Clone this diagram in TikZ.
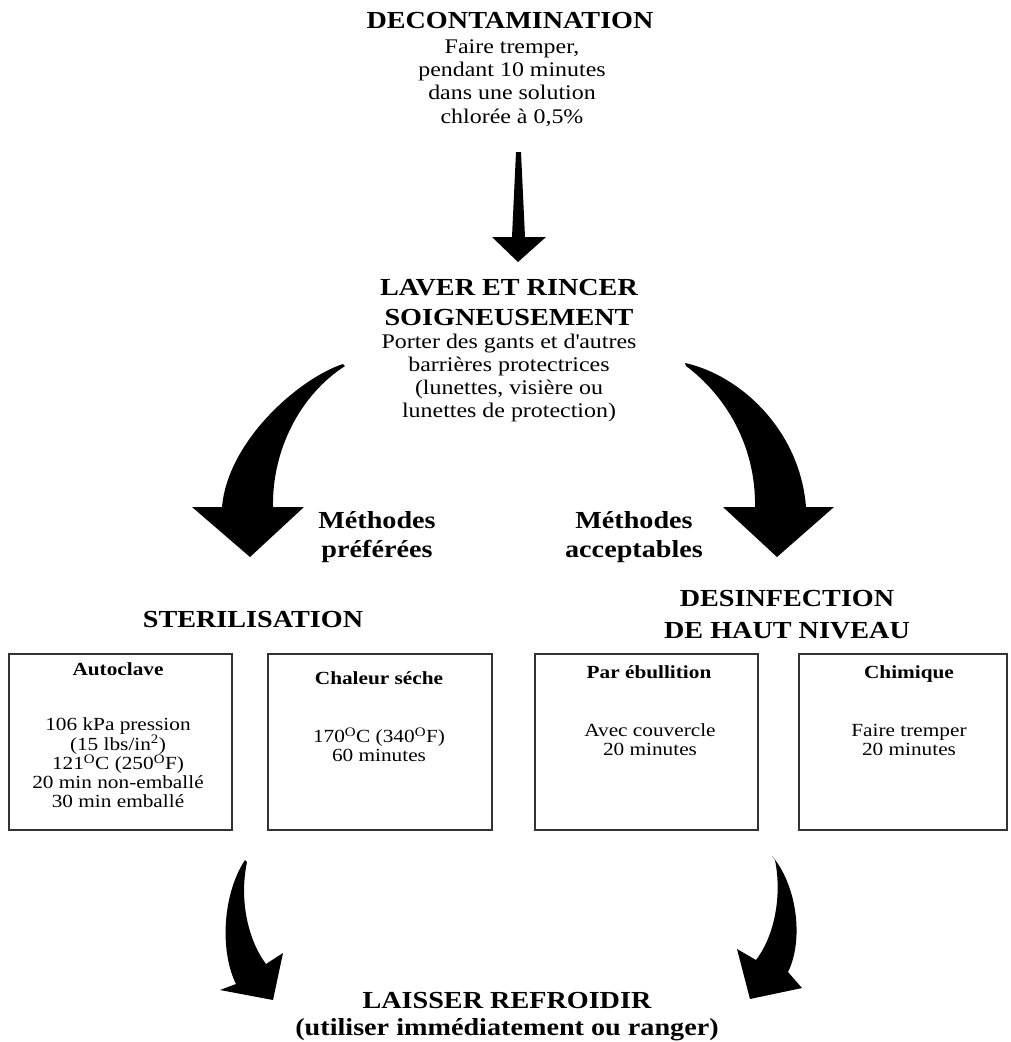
\documentclass[tikz,border=0pt]{standalone}
\usepackage{fontspec}
\setmainfont{Liberation Serif}[FakeStretch=1.15]
\begin{document}
\begin{tikzpicture}[x=1pt,y=-1pt,
  head/.style={font=\fontsize{24.5}{30}\selectfont\bfseries, align=center, inner sep=0pt, anchor=base},
  body/.style={font=\fontsize{20.8}{23.3}\selectfont, align=center, inner sep=0pt, anchor=base},
  btitle/.style={font=\fontsize{18.5}{20}\selectfont\bfseries, align=center, inner sep=0pt, anchor=base},
  bbody/.style={font=\fontsize{18.5}{18.6}\selectfont, align=center, inner sep=0pt, anchor=base},
  boxframe/.style={draw=black!80, line width=1.6pt, fill=none},
  fatarrow/.style={fill=black, draw=none}]
\useasboundingbox[fill=white] (0,0) rectangle (1010,1042);

% top (anchor=base is the baseline of the last line)
\node[head] (decon) at (510,28) {DECONTAMINATION};
\node[body] (decondesc) at (512,123) {Faire tremper,\\pendant 10 minutes\\dans une solution\\chlorée à 0,5\%};

\node[head, font=\fontsize{24.5}{30}\selectfont\bfseries] (laver) at (509,325) {LAVER ET RINCER\\SOIGNEUSEMENT};
\node[body, font=\fontsize{20.8}{23}\selectfont] (laverdesc) at (509,417) {Porter des gants et d\textquotesingle autres\\barrières protectrices\\(lunettes, visière ou\\lunettes de protection)};

\node[head, font=\fontsize{24.5}{29}\selectfont\bfseries] (pref) at (377,557) {Méthodes\\préférées};
\node[head, font=\fontsize{24.5}{29}\selectfont\bfseries] (accept) at (634,557) {Méthodes\\acceptables};

\node[head] (steril) at (253,627) {STERILISATION};
\node[head, font=\fontsize{24.5}{32}\selectfont\bfseries] (desinf) at (787,638) {DESINFECTION\\DE HAUT NIVEAU};

% boxes
\draw[boxframe] (9,654) rectangle (232,830);
\draw[boxframe] (268,654) rectangle (492,830);
\draw[boxframe] (535,654) rectangle (758,830);
\draw[boxframe] (799,654) rectangle (1007,830);

\node[btitle] (autot) at (118,675) {Autoclave};
\node[bbody] (autob) at (118,807) {106 kPa pression\\(15 lbs/in\textsuperscript{2})\\121\textsuperscript{O}C (250\textsuperscript{O}F)\\20 min non-emballé\\30 min emballé};

\node[btitle] (chalt) at (379,684) {Chaleur séche};
\node[bbody] (chalb) at (379,761) {170\textsuperscript{O}C (340\textsuperscript{O}F)\\60 minutes};

\node[btitle] (ebut) at (649,678) {Par ébullition};
\node[bbody] (ebub) at (650,755) {Avec couvercle\\20 minutes};

\node[btitle] (chimt) at (909,678) {Chimique};
\node[bbody] (chimb) at (909,755) {Faire tremper\\20 minutes};

\node[head, font=\fontsize{24.5}{27}\selectfont\bfseries] (cool) at (507,1035) {LAISSER REFROIDIR\\(utiliser immédiatement ou ranger)};

% straight arrow
\fill[fatarrow] (516,152) -- (521,152) -- (525,237) -- (546,237) -- (518,262) -- (492,237) -- (512,237) -- cycle;

% upper left curved arrow
\fill[fatarrow] (343,364) .. controls (300,378) and (228,440) .. (222,507)
  -- (192,507) -- (250,557) -- (304,507) -- (273,507)
  .. controls (272,450) and (300,395) .. (345,366) -- cycle;

% upper right curved arrow
\fill[fatarrow] (685,363) .. controls (740,375) and (800,430) .. (806,507)
  -- (834,507) -- (777,557) -- (723,507) -- (755,507)
  .. controls (756,445) and (725,395) .. (686,366) -- cycle;

% lower left curved arrow
\fill[fatarrow] (245,860) .. controls (222,895) and (220,952) .. (236,984)
  -- (220,990) -- (273,1000) -- (283,953) -- (266,964)
  .. controls (248,940) and (239,900) .. (247,862) -- cycle;

% lower right curved arrow
\fill[fatarrow] (772,856) .. controls (797,885) and (804,940) .. (788,972)
  -- (802,988) -- (750,999) -- (737,949) -- (756,960)
  .. controls (775,935) and (782,895) .. (775,860) -- cycle;
\end{tikzpicture}
\end{document}
